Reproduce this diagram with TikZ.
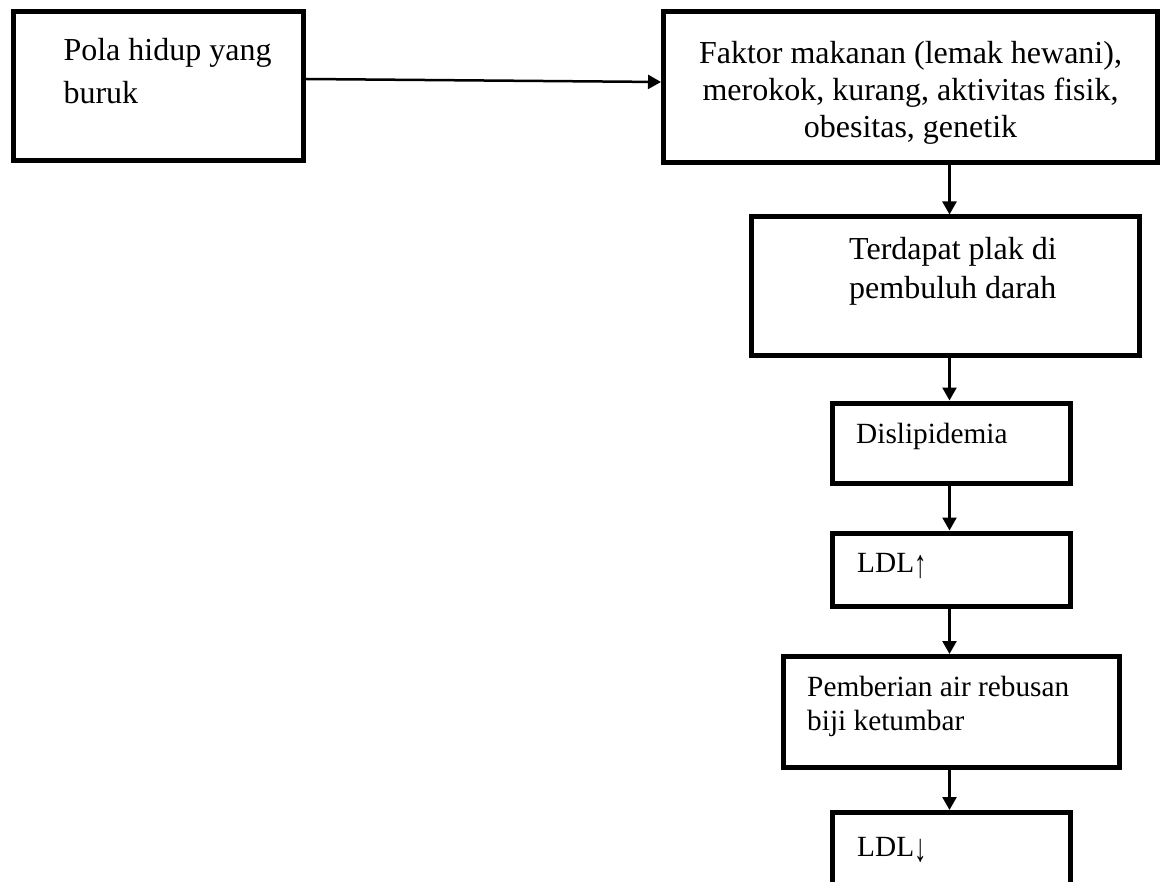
\documentclass[tikz,border=0pt]{standalone}
\usepackage{fontspec}
\usepackage{graphicx}
\setmainfont{Liberation Serif}
\usetikzlibrary{arrows.meta}
\newcommand{\tallarrow}[1]{\raisebox{-0.17em}{\scalebox{0.85}[1.35]{#1}}}
\tikzset{
  box/.style={draw, rectangle, line width=5pt, inner sep=0pt, fill=none},
  big/.style={inner sep=0pt, font=\fontsize{32}{38}\selectfont},
  small/.style={inner sep=0pt, font=\fontsize{29.3}{34}\selectfont},
  arr/.style={line width=2.5pt, -{Triangle[width=14pt,length=13pt]}}
}
\begin{document}
\begin{tikzpicture}[x=1pt,y=-1pt]
\useasboundingbox (0,0) rectangle (1167,882);
\clip (0,0) rectangle (1167,882);
% boxes
\node[box, minimum width=290pt, minimum height=149pt] (b1) at (158.5,86) {};
\node[box, minimum width=494pt, minimum height=151pt] (b2) at (910.5,87.5) {};
\node[box, minimum width=388pt, minimum height=139pt] (b3) at (945,286.5) {};
\node[box, minimum width=238pt, minimum height=80.5pt] (b4) at (951,443.25) {};
\node[box, minimum width=238pt, minimum height=73pt] (b5) at (951,569.5) {};
\node[box, minimum width=336pt, minimum height=110.5pt] (b6) at (951,711.75) {};
\node[box, minimum width=238pt, minimum height=99.5pt] (b7) at (951,862.25) {};
% texts
\node[big, anchor=base west] (t1a) at (63.3,61) {Pola hidup yang};
\node[big, anchor=base west] (t1b) at (63.3,103.3) {buruk};
\node[big, anchor=base] (t2a) at (910.5,63.3) {Faktor makanan (lemak hewani),};
\node[big, anchor=base] (t2b) at (910.5,100.3) {merokok, kurang, aktivitas fisik,};
\node[big, anchor=base] (t2c) at (910.5,137.3) {obesitas, genetik};
\node[big, anchor=base west] (t3a) at (849,260) {Terdapat plak di};
\node[big, anchor=base west] (t3b) at (849,299) {pembuluh darah};
\node[small, anchor=base west] (t4) at (856,443.3) {Dislipidemia};
\node[small, anchor=base west] (t5) at (857,572.7) {LDL\tallarrow{↑}};
\node[small, anchor=base west] (t6a) at (807,696.7) {Pemberian air rebusan};
\node[small, anchor=base west] (t6b) at (807,730) {biji ketumbar};
\node[small, anchor=base west] (t7) at (857,856.7) {LDL\tallarrow{↓}};
% connectors
\coordinate (ax) at (949.5,0);
\draw[arr] ([yshift=7pt]b1.east) -- ([yshift=5.5pt]b2.west);
\draw[arr] (b2.south -| ax) -- (b3.north -| ax);
\draw[arr] (b3.south -| ax) -- (b4.north -| ax);
\draw[arr] (b4.south -| ax) -- (b5.north -| ax);
\draw[arr] (b5.south -| ax) -- (b6.north -| ax);
\draw[arr] (b6.south -| ax) -- (b7.north -| ax);
\end{tikzpicture}
\end{document}
